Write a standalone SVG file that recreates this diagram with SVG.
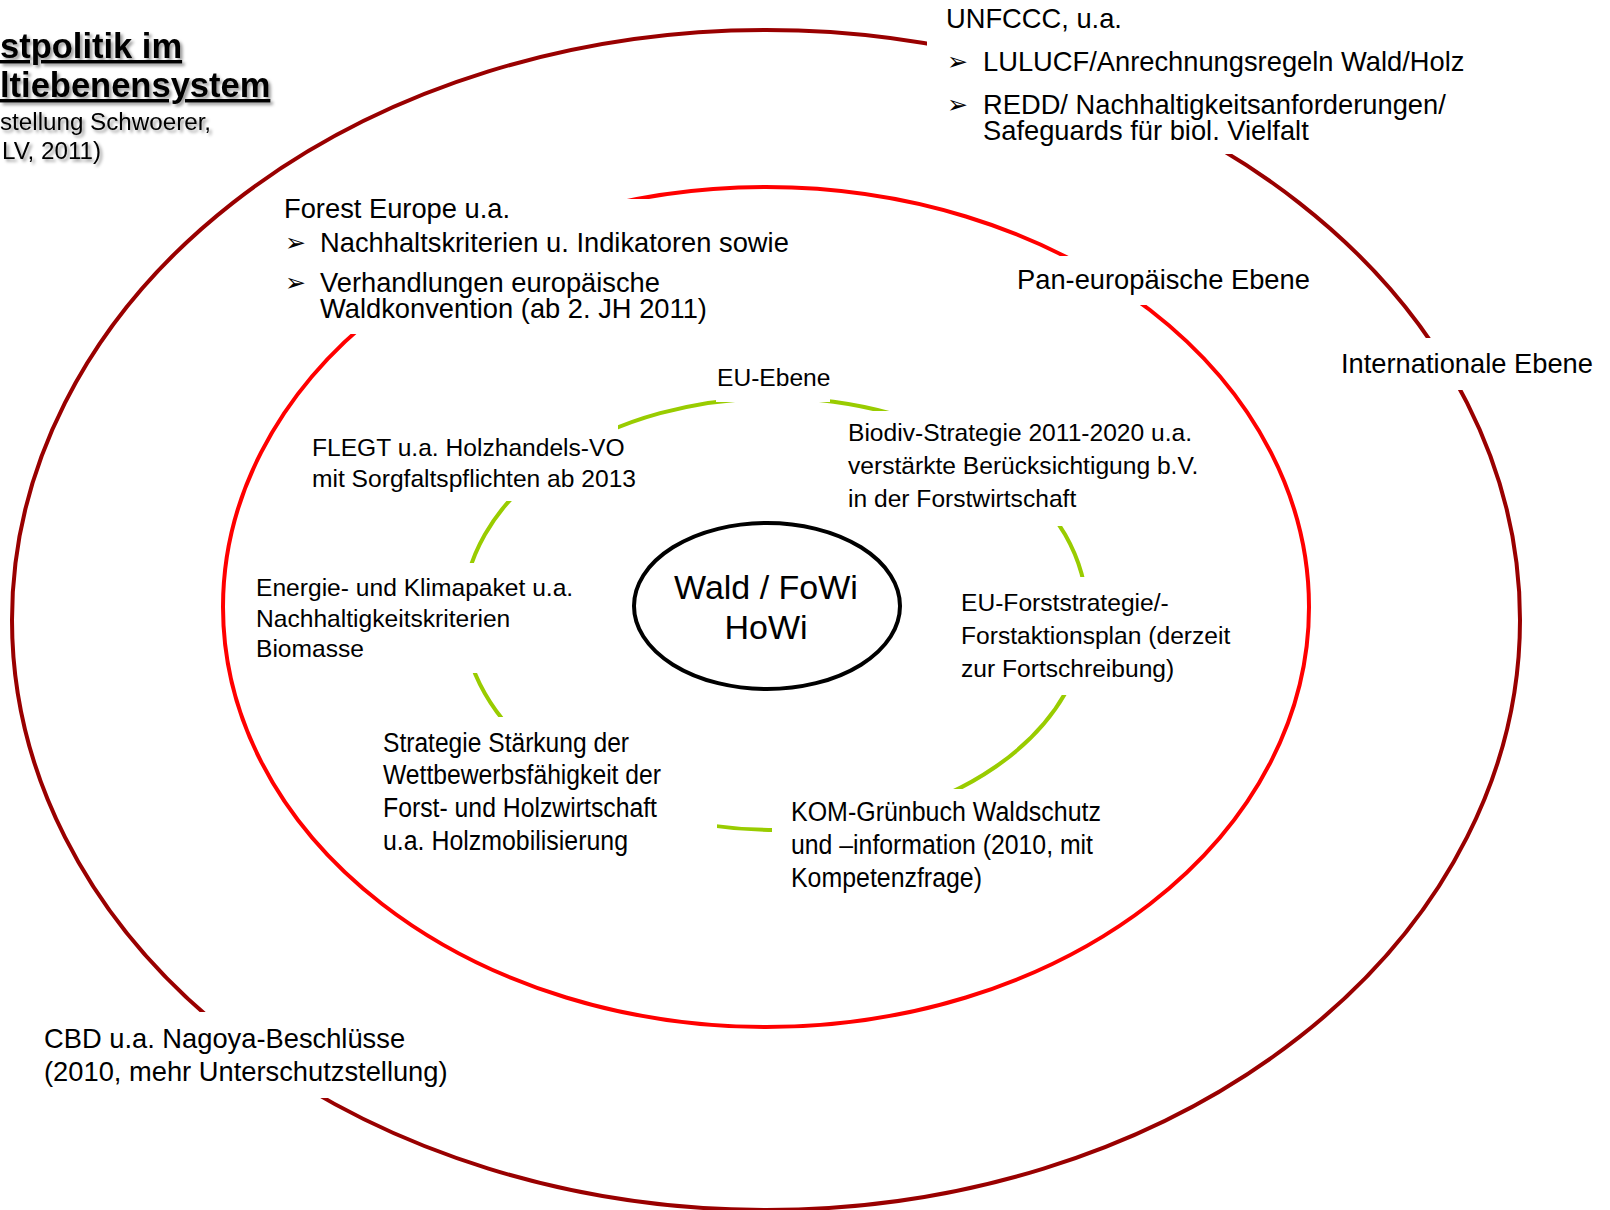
<svg xmlns="http://www.w3.org/2000/svg" width="1610" height="1210" viewBox="0 0 1610 1210">
<style>
text{font-family:"Liberation Sans",Arial,sans-serif;fill:#000}
.l{font-size:27.3px}
.s{font-size:24.6px}
.c{font-size:27px}
.b{font-family:"DejaVu Sans",sans-serif;font-size:25px}
.t{font-size:34.5px;font-weight:bold;text-decoration:underline}
.st{font-size:24.2px}
.mask{fill:#fff;stroke:none}
.ring{fill:none}
</style>
<defs>
<filter id="sh" x="-5%" y="-30%" width="115%" height="170%">
<feDropShadow dx="2.5" dy="2.5" stdDeviation="1.6" flood-color="#000" flood-opacity="0.4"/>
</filter>
</defs>
<rect width="1610" height="1210" fill="#fff"/>
<g id="rings">
<ellipse id="ring-international" class="ring" cx="766" cy="620" rx="754" ry="590" stroke="#990000" stroke-width="4"/>
<ellipse id="ring-paneuropean" class="ring" cx="766" cy="607" rx="543" ry="420" stroke="#ff0000" stroke-width="4"/>
<ellipse id="ring-eu" class="ring" cx="775" cy="614" rx="312" ry="216" stroke="#99cc00" stroke-width="4"/>
</g>
<g id="title" filter="url(#sh)">
<text class="t" x="0" y="58">stpolitik im</text>
<text class="t" x="0" y="97">ltiebenensystem</text>
<text class="st" x="0" y="130">stellung Schwoerer,</text>
<text class="st" x="2" y="159">LV, 2011)</text>
</g>
<g id="unfccc">
<rect class="mask" x="927" y="0" width="560" height="154"/>
<text class="l" x="946" y="28">UNFCCC, u.a.</text>
<text class="b" x="947" y="70">➢</text>
<text class="l" x="983" y="71">LULUCF/Anrechnungsregeln Wald/Holz</text>
<text class="b" x="947" y="113">➢</text>
<text class="l" x="983" y="114">REDD/ Nachhaltigkeitsanforderungen/</text>
<text class="l" x="983" y="140">Safeguards für biol. Vielfalt</text>
</g>
<g id="forest-europe">
<rect class="mask" x="270" y="199" width="530" height="135"/>
<text class="l" x="284" y="218">Forest Europe u.a.</text>
<text class="b" x="285" y="251">➢</text>
<text class="l" x="320" y="252">Nachhaltskriterien u. Indikatoren sowie</text>
<text class="b" x="285" y="291">➢</text>
<text class="l" x="320" y="292">Verhandlungen europäische</text>
<text class="l" x="320" y="318">Waldkonvention (ab 2. JH 2011)</text>
</g>
<g id="pan-european-label">
<rect class="mask" x="1000" y="256" width="310" height="49"/>
<text class="l" x="1017" y="289">Pan-europäische Ebene</text>
</g>
<g id="international-label">
<rect class="mask" x="1335" y="338" width="270" height="52"/>
<text class="l" x="1341" y="373">Internationale Ebene</text>
</g>
<g id="cbd">
<rect class="mask" x="40" y="1012" width="420" height="86"/>
<text class="l" x="44" y="1048">CBD u.a. Nagoya-Beschlüsse</text>
<text class="l" x="44" y="1081">(2010, mehr Unterschutzstellung)</text>
</g>
<g id="eu-label">
<rect class="mask" x="716" y="352" width="114" height="50"/>
<text class="s" x="717" y="386">EU-Ebene</text>
</g>
<g id="flegt">
<rect class="mask" x="300" y="424" width="318" height="77"/>
<text class="s" x="312" y="456">FLEGT u.a. Holzhandels-VO</text>
<text class="s" x="312" y="487">mit Sorgfaltspflichten ab 2013</text>
</g>
<g id="biodiv">
<rect class="mask" x="845" y="411" width="380" height="115"/>
<text class="s" x="848" y="441">Biodiv-Strategie 2011-2020 u.a.</text>
<text class="s" x="848" y="474">verstärkte Berücksichtigung b.V.</text>
<text class="s" x="848" y="507">in der Forstwirtschaft</text>
</g>
<g id="energie">
<rect class="mask" x="250" y="563" width="330" height="110"/>
<text class="s" x="256" y="596">Energie- und Klimapaket u.a.</text>
<text class="s" x="256" y="627">Nachhaltigkeitskriterien</text>
<text class="s" x="256" y="657">Biomasse</text>
</g>
<g id="eu-forst">
<rect class="mask" x="955" y="577" width="280" height="118"/>
<text class="s" x="961" y="611">EU-Forststrategie/-</text>
<text class="s" x="961" y="644">Forstaktionsplan (derzeit</text>
<text class="s" x="961" y="677">zur Fortschreibung)</text>
</g>
<g id="strategie">
<rect class="mask" x="378" y="717" width="339" height="143"/>
<text class="c" x="383" y="752" textLength="246" lengthAdjust="spacingAndGlyphs">Strategie Stärkung der</text>
<text class="c" x="383" y="784" textLength="278" lengthAdjust="spacingAndGlyphs">Wettbewerbsfähigkeit der</text>
<text class="c" x="383" y="817" textLength="274" lengthAdjust="spacingAndGlyphs">Forst- und Holzwirtschaft</text>
<text class="c" x="383" y="850" textLength="245" lengthAdjust="spacingAndGlyphs">u.a. Holzmobilisierung</text>
</g>
<g id="kom">
<rect class="mask" x="772" y="789" width="340" height="110"/>
<text class="c" x="791" y="821" textLength="310" lengthAdjust="spacingAndGlyphs">KOM-Grünbuch Waldschutz</text>
<text class="c" x="791" y="854" textLength="302" lengthAdjust="spacingAndGlyphs">und –information (2010, mit</text>
<text class="c" x="791" y="887" textLength="191" lengthAdjust="spacingAndGlyphs">Kompetenzfrage)</text>
</g>
<g id="center">
<ellipse cx="767" cy="606" rx="133" ry="83" fill="#fff" stroke="#000" stroke-width="4"/>
<text x="766" y="599" font-size="34" text-anchor="middle">Wald / FoWi</text>
<text x="766" y="639" font-size="34" text-anchor="middle">HoWi</text>
</g>
</svg>
